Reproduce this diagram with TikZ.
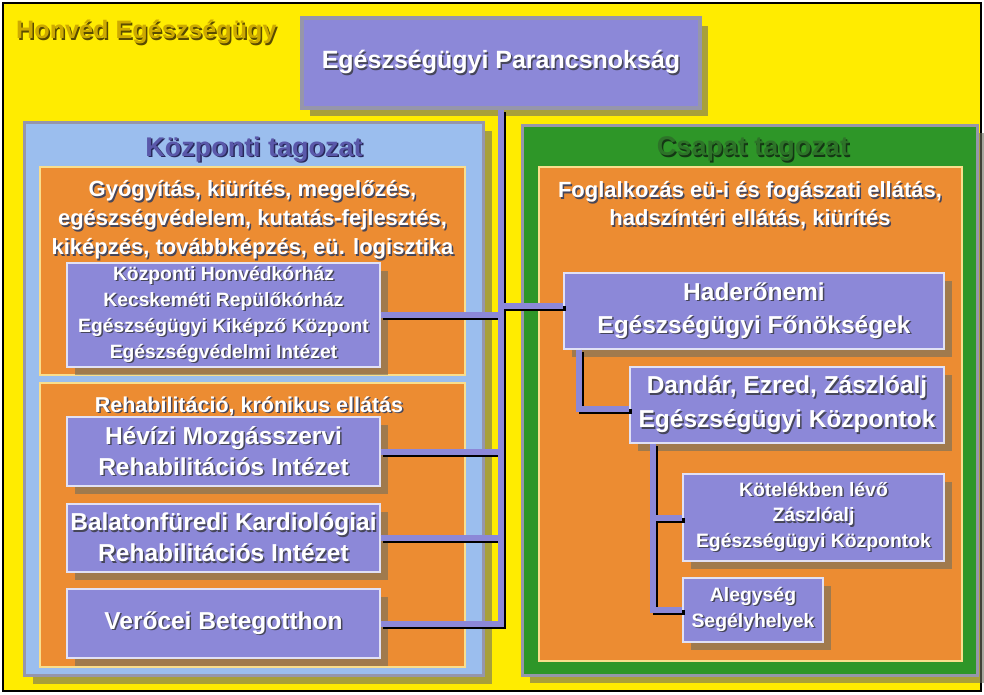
\documentclass[tikz,border=0pt]{standalone}
\usepackage{fontspec}
\setmainfont{Liberation Sans}
\usetikzlibrary{shadows,calc}
\definecolor{ybg}{RGB}{255,236,0}
\definecolor{bluep}{RGB}{155,190,238}
\definecolor{greyedge}{RGB}{150,150,170}
\definecolor{greenp}{RGB}{46,150,40}
\definecolor{orangep}{RGB}{236,140,50}
\definecolor{orangeedge}{RGB}{250,222,140}
\definecolor{purp}{RGB}{140,136,216}
\definecolor{purpedge}{RGB}{225,225,245}
\definecolor{shcol}{RGB}{110,110,95}
\definecolor{tsh}{RGB}{70,70,90}
\definecolor{goldt}{RGB}{205,170,0}
\definecolor{goldsh}{RGB}{90,75,0}
\definecolor{bluet}{RGB}{90,88,170}
\definecolor{bluesh}{RGB}{40,40,90}
\definecolor{greent}{RGB}{45,115,40}
\definecolor{greensh}{RGB}{20,55,20}
\newcommand\shtx[2][tsh]{\makebox[0pt][l]{\kern1.5pt\raisebox{-1.5pt}{\textcolor{#1}{#2}}}#2}
\newcommand\connpaths{%
  \draw[conn] (ep.south) -- (tb);
  \draw[conn] (kh.east) -- (kh.east -| ep.south);
  \draw[conn] (hv.east) -- (hv.east -| ep.south);
  \draw[conn] (bf.east) -- (bf.east -| ep.south);
  \draw[conn] (vb.east) -- (vb.east -| ep.south);
  \draw[conn] (hfin) -- (hfin -| ep.south);
  \draw[conn] (hfdown) |- (ddin);
  \draw[conn] (dddown) |- (al.west);
  \draw[conn] (kt.west) -- (kt.west -| dddown);
}
\begin{document}
\begin{tikzpicture}[x=1pt,y=-1pt,
  fsz/.style 2 args={font=\fontsize{#1}{#2}\selectfont\bfseries},
  dshadow/.style={drop shadow={shadow xshift=#1pt, shadow yshift=-#1pt, fill=shcol, opacity=0.6}},
  panel/.style={draw=greyedge, line width=3pt, inner sep=0pt},
  obox/.style={fill=orangep, draw=orangeedge, line width=2.5pt, inner sep=0pt},
  pbox/.style={fill=purp, draw=purpedge, line width=1.2pt, inner sep=0pt, align=center, text=white, dshadow=8},
  wtext/.style={text=white, align=center, inner sep=0pt},
  connsh/.style={draw=black, line width=5pt, line join=miter, transform canvas={xshift=2.5pt,yshift=-2.5pt}},
  connfg/.style={draw=purp, line width=6pt, line join=miter},
]
\useasboundingbox (0,0) rectangle (984,694);
\fill[white] (0,0) rectangle (984,694);
\draw[fill=ybg, line width=2pt] (3,3) rectangle (981,691);

\node[wtext, anchor=west, text=goldt, fsz={25.2}{29}] (hetitle) at (16,33) {\shtx[goldsh]{Honvéd Egészségügy}};

% panels
\node[panel, fill=bluep, minimum width=459, minimum height=553, dshadow=9] (kp) at (253.5,398.5) {};
\node[panel, fill=greenp, minimum width=455, minimum height=550, dshadow=8] (cp) at (749.5,400) {};

% top box
\node[pbox, draw=greyedge, line width=3.5pt, minimum width=398, minimum height=90, fsz={25}{30}] (ep) at (501,63) {\shtx{Egészségügyi Parancsnokság}};

% panel titles
\node[wtext, text=bluet, fsz={27}{32}] (kptitle) at (254,150) {\shtx[bluesh]{Központi tagozat}};
\node[wtext, text=greent, fsz={27}{32}] (cptitle) at (753,150) {\shtx[greensh]{Csapat tagozat}};

% orange boxes
\node[obox, minimum width=425, minimum height=208] (ob1) at (252.5,271) {};
\node[obox, minimum width=425, minimum height=284] (ob2) at (252.5,525) {};
\node[obox, minimum width=423, minimum height=494] (ob3) at (750.5,414) {};

\node[wtext, fsz={22}{29}] (t1) at (252.5,221) {\shtx{Gyógyítás, kiürítés, megelőzés,}\\\shtx{egészségvédelem, kutatás-fejlesztés,}\\\shtx{kiképzés, továbbképzés, eü. logisztika}};
\node[wtext, fsz={21.5}{25}] (t2) at (249,407) {\shtx{Rehabilitáció, krónikus ellátás}};
\node[wtext, fsz={22}{28}] (t3) at (750,206) {\shtx{Foglalkozás eü-i és fogászati ellátás,}\\\shtx{hadszíntéri ellátás, kiürítés}};

% purple boxes
\node[pbox, minimum width=313, minimum height=104, fsz={19.3}{26}] (kh) at (223.5,315) {\shtx{Központi Honvédkórház}\\\shtx{Kecskeméti Repülőkórház}\\\shtx{Egészségügyi Kiképző Központ}\\\shtx{Egészségvédelmi Intézet}};
\node[pbox, minimum width=313, minimum height=69, fsz={24.5}{31}] (hv) at (223.5,451.5) {\shtx{Hévízi Mozgásszervi}\\\shtx{Rehabilitációs Intézet}};
\node[pbox, minimum width=313, minimum height=68, fsz={24.5}{31}] (bf) at (223.5,538) {\shtx{Balatonfüredi Kardiológiai}\\\shtx{Rehabilitációs Intézet}};
\node[pbox, minimum width=313, minimum height=69, fsz={24.5}{31}] (vb) at (223.5,623.5) {\shtx{Verőcei Betegotthon}};

\node[pbox, minimum width=380, minimum height=76, fsz={24.5}{33}] (hf) at (754,311) {\shtx{Haderőnemi}\\\shtx{Egészségügyi Főnökségek}};
\node[pbox, minimum width=314, minimum height=76, fsz={24.5}{34}] (dd) at (787,405) {\shtx{Dandár, Ezred, Zászlóalj}\\\shtx{Egészségügyi Központok}};
\node[pbox, minimum width=261, minimum height=87, fsz={19.4}{25.5}] (kt) at (813.5,517.5) {\shtx{Kötelékben lévő}\\\shtx{Zászlóalj}\\\shtx{Egészségügyi Központok}};
\node[pbox, minimum width=140, minimum height=64, fsz={19.4}{26}] (al) at (753,610) {\shtx{Alegység}\\\shtx{Segélyhelyek}};

% connector anchors
\coordinate (tb) at ($(ep.south |- vb.east)+(0,3)$);
\coordinate (hfin) at ($(hf.west)+(0,-5)$);
\coordinate (hfdown) at ($(hf.south west)+(16,0)$);
\coordinate (ddin) at ($(dd.west)+(0,4)$);
\coordinate (dddown) at ($(dd.south west)+(24,0)$);

\tikzset{conn/.style={connsh}}
\connpaths
\tikzset{conn/.style={connfg}}
\connpaths
\end{tikzpicture}
\end{document}
